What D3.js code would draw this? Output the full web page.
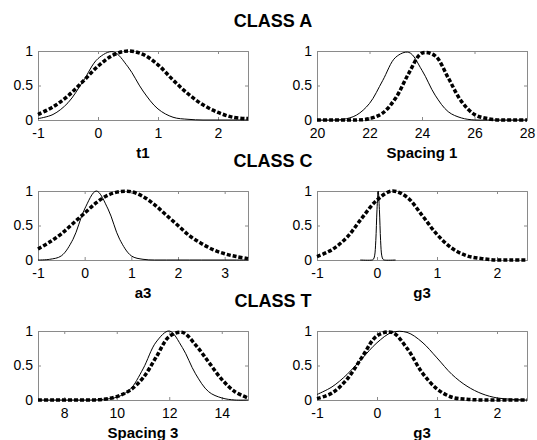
<!doctype html>
<html>
<head>
	<meta charset="utf-8">
	<title>Classes</title>
	<script src="https://cdnjs.cloudflare.com/ajax/libs/d3/7.8.5/d3.min.js"></script>
	<style>
		body { margin: 0; background: #fff; }
		text { font-family: "Liberation Sans", Arial, Helvetica, sans-serif; }
	</style>
</head>
<body>
	<script>
		var classTitles = ['CLASS A', 'CLASS C', 'CLASS T'];
		var xLabels = ['t1', 'Spacing 1', 'a3', 'g3', 'Spacing 3', 'g3'];
		var xDomains = [[-1, 2.5], [20, 28], [-1, 3.5], [-1, 2.5], [7, 15], [-1, 2.5]];
		var xTicks = [[-1, 0, 1, 2], [20, 22, 24, 26, 28], [-1, 0, 1, 2, 3], [-1, 0, 1, 2], [8, 10, 12, 14], [-1, 0, 1, 2]];
		var yTicks = [0, 0.5, 1];

		// class A, t1
		var t1X = [-1, -0.75, -0.5, -0.25, 0, 0.25, 0.5, 0.75, 1, 1.25, 1.5, 1.75, 2, 2.25, 2.5];
		var t1Thin = [0.02, 0.08, 0.25, 0.56, 0.89, 0.99, 0.77, 0.42, 0.16, 0.04, 0.01, 0, 0, 0, 0];
		var t1Thick = [0.08, 0.19, 0.35, 0.56, 0.78, 0.94, 1, 0.95, 0.80, 0.58, 0.38, 0.22, 0.11, 0.04, 0.02];

		// class A, spacing 1
		var sp1X = [20, 20.5, 21, 21.5, 22, 22.5, 23, 23.5, 24, 24.5, 25, 25.5, 26, 26.5, 27, 27.5, 28];
		var sp1Thin = [0, 0, 0.01, 0.07, 0.24, 0.57, 0.91, 0.98, 0.72, 0.36, 0.12, 0.03, 0, 0, 0, 0, 0];
		var sp1Thick = [0, 0, 0, 0, 0.02, 0.10, 0.32, 0.68, 0.97, 0.93, 0.61, 0.27, 0.08, 0.02, 0, 0, 0];

		// class C, a3
		var a3X = [-1, -0.75, -0.5, -0.25, 0, 0.25, 0.5, 0.75, 1, 1.25, 1.5, 1.75, 2, 2.25, 2.5, 2.75, 3, 3.25, 3.5];
		var a3Thin = [0, 0.01, 0.06, 0.30, 0.74, 1, 0.74, 0.30, 0.06, 0.01, 0, 0, 0, 0, 0, 0, 0, 0, 0];
		var a3Thick = [0.16, 0.26, 0.38, 0.53, 0.68, 0.83, 0.94, 0.99, 0.99, 0.92, 0.80, 0.65, 0.50, 0.35, 0.24, 0.15, 0.09, 0.05, 0.02];

		// class C, g3
		var g3cX = [-1, -0.75, -0.5, -0.25, 0, 0.25, 0.5, 0.75, 1, 1.25, 1.5, 1.75, 2, 2.25, 2.5];
		var g3cThick = [0.05, 0.15, 0.33, 0.61, 0.87, 1, 0.91, 0.65, 0.37, 0.17, 0.06, 0.02, 0, 0, 0];
		var g3cSpikeX = [-0.28, -0.08, -0.06, -0.04, -0.02, 0, 0.02, 0.04, 0.06, 0.08, 0.1, 0.12, 0.31];
		var g3cSpike = [0, 0, 0.01, 0.06, 0.28, 0.73, 1, 0.73, 0.28, 0.06, 0.01, 0, 0];

		// class T, spacing 3
		var sp3X = [7, 7.5, 8, 8.5, 9, 9.5, 10, 10.5, 11, 11.5, 12, 12.5, 13, 13.5, 14, 14.5, 15];
		var sp3Thin = [0, 0, 0, 0, 0, 0.01, 0.04, 0.15, 0.45, 0.84, 1, 0.76, 0.38, 0.12, 0.03, 0, 0];
		var sp3Thick = [0, 0, 0, 0, 0, 0.01, 0.05, 0.14, 0.32, 0.62, 0.92, 0.98, 0.80, 0.55, 0.30, 0.12, 0.03];

		// class T, g3
		var g3tX = [-1, -0.75, -0.5, -0.25, 0, 0.25, 0.5, 0.75, 1, 1.25, 1.5, 1.75, 2, 2.25, 2.5];
		var g3tThin = [0.08, 0.19, 0.37, 0.60, 0.83, 0.98, 0.98, 0.84, 0.61, 0.37, 0.20, 0.09, 0.03, 0.01, 0];
		var g3tThick = [0.02, 0.10, 0.30, 0.62, 0.93, 0.98, 0.75, 0.40, 0.16, 0.04, 0.01, 0, 0, 0, 0];

		var panels = [
			{ thin: [t1X, t1Thin], thick: [t1X, t1Thick] },
			{ thin: [sp1X, sp1Thin], thick: [sp1X, sp1Thick] },
			{ thin: [a3X, a3Thin], thick: [a3X, a3Thick] },
			{ thin: [g3cSpikeX, g3cSpike], thick: [g3cX, g3cThick] },
			{ thin: [sp3X, sp3Thin], thick: [sp3X, sp3Thick] },
			{ thin: [g3tX, g3tThin], thick: [g3tX, g3tThick] }
		];

		var width = 537, height = 440;
		var lefts = [38, 317], tops = [51, 191, 331];
		var pw = 210, ph = 69;
		var fmt = function (d) { return String(d); };

		var svg = d3.select('body').append('svg')
			.attr('width', width)
			.attr('height', height);

		function pairs(s) {
			return s[0].map(function (x, i) { return [x, s[1][i]]; });
		}

		classTitles.forEach(function (t, r) {
			svg.append('text')
				.attr('x', 273)
				.attr('y', tops[r] - 24)
				.attr('text-anchor', 'middle')
				.style('font-size', '18px')
				.style('font-weight', 'bold')
				.text(t);
		});

		panels.forEach(function (p, i) {
			var row = Math.floor(i / 2), col = i % 2;
			var g = svg.append('g')
				.attr('transform', 'translate(' + lefts[col] + ',' + tops[row] + ')');

			var x = d3.scaleLinear().domain(xDomains[i]).range([0, pw]);
			var y = d3.scaleLinear().domain([0, 1]).range([ph, 0]);

			// inward ticks on all four sides, grey box
			var axes = [
				d3.axisBottom(x).tickValues(xTicks[i]).tickSize(-3).tickPadding(8).tickFormat(fmt),
				d3.axisTop(x).tickValues(xTicks[i]).tickSize(-3).tickFormat(''),
				d3.axisLeft(y).tickValues(yTicks).tickSize(-3).tickPadding(5).tickFormat(fmt),
				d3.axisRight(y).tickValues(yTicks).tickSize(-3).tickFormat('')
			];
			var shifts = ['0,' + ph, '0,0', '0,0', pw + ',0'];
			axes.forEach(function (a, k) {
				var ag = g.append('g')
					.attr('transform', 'translate(' + shifts[k] + ')')
					.call(a);
				ag.select('.domain').attr('stroke', '#8a8a8a');
				ag.selectAll('.tick line').attr('stroke', '#8a8a8a');
				ag.selectAll('.tick text')
					.attr('fill', '#000')
					.style('font-size', '14px')
					.style('font-family', '"Liberation Sans", Arial, sans-serif');
			});

			var line = d3.line()
				.x(function (d) { return x(d[0]); })
				.y(function (d) { return y(d[1]); })
				.curve(d3.curveCatmullRom);

			g.append('path')
				.datum(pairs(p.thick))
				.attr('fill', 'none')
				.attr('stroke', '#000')
				.attr('stroke-width', 3.5)
				.attr('stroke-dasharray', '4,2')
				.attr('d', line);

			g.append('path')
				.datum(pairs(p.thin))
				.attr('fill', 'none')
				.attr('stroke', '#000')
				.attr('stroke-width', 1)
				.attr('d', line);

			g.append('text')
				.attr('x', pw / 2)
				.attr('y', ph + 38)
				.attr('text-anchor', 'middle')
				.style('font-size', '15px')
				.style('font-weight', 'bold')
				.text(xLabels[i]);
		});
	</script>
</body>
</html>
